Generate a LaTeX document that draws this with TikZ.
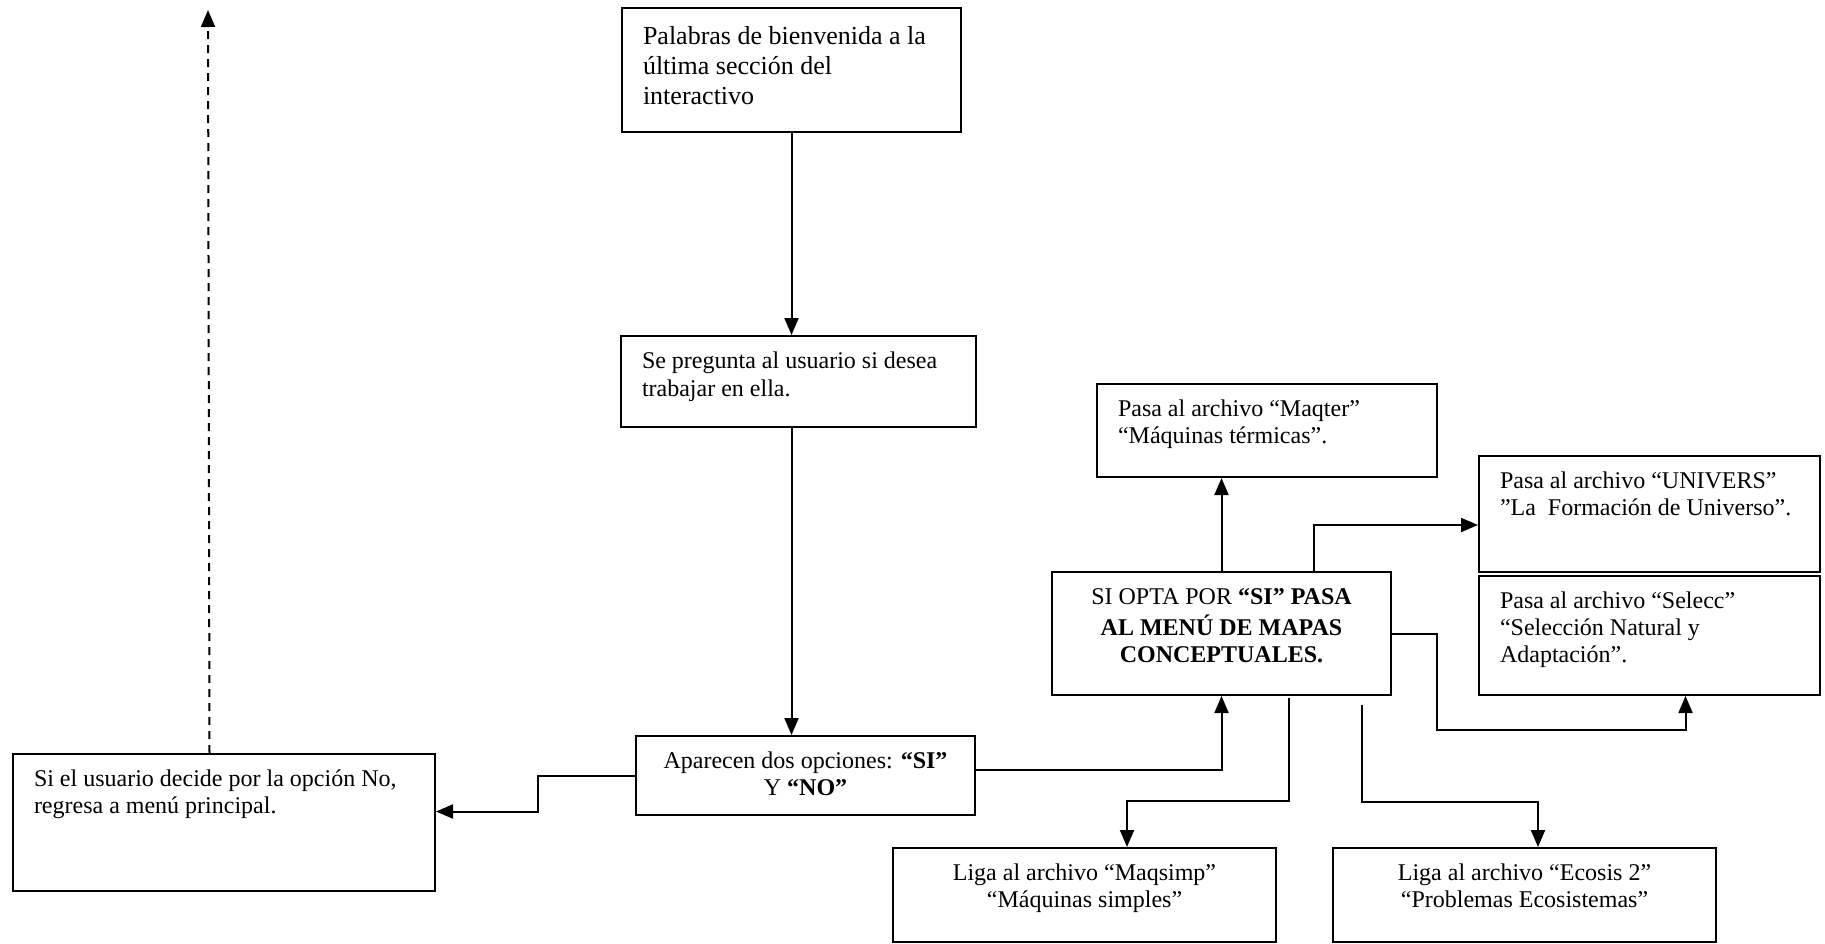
\documentclass[tikz,border=0pt]{standalone}
\usepackage{fontspec}
\setmainfont{Liberation Serif}
\usetikzlibrary{arrows.meta}
\newcommand{\cajatexto}[4][\raggedright\leftskip=10.5pt\relax]{\parbox[c][#3][t]{#2}{#1\strut #4}}

\begin{document}
\begin{tikzpicture}[x=0.5pt, y=-0.5pt, >={Triangle[length=8.5pt, width=7pt]}]
        \tikzset{
            caja/.style={draw, line width=1pt, anchor=north west, inner xsep=0pt, inner ysep=7pt, font=\fontsize{12}{13.5}\selectfont},
            flecha/.style={->, line width=1pt}
        }
        \useasboundingbox (0,0) rectangle (1825,943);

        \node[caja, inner ysep=7.5pt, font=\fontsize{13}{15}\selectfont] (bienvenida) at (621,7) {\cajatexto{169.5pt}{47pt}{Palabras de bienvenida a la\\ última sección del\\ interactivo}};
        \node[caja, inner ysep=6.2pt, font=\fontsize{12}{14}\selectfont] (pregunta) at (620,335) {\cajatexto{177.5pt}{33.1pt}{Se pregunta al usuario si desea\\ trabajar en ella.}};
        \node[caja] (opciones) at (635,735) {\cajatexto[\centering]{169.5pt}{25.5pt}{Aparecen dos opciones: \textbf{“SI”}\\ Y \textbf{“NO”}}};
        \node[caja] (regresa) at (12,753) {\cajatexto{211pt}{54.5pt}{Si el usuario decide por la opción No,\\ regresa a menú principal.}};

        \node[caja] (menu) at (1051,571) {\cajatexto[\centering]{169.5pt}{47.5pt}{SI OPTA POR \textbf{“SI” PASA}\\ \textbf{AL MENÚ DE MAPAS}\\ \textbf{CONCEPTUALES.}}};
        \node[caja] (maqter) at (1096,383) {\cajatexto{170pt}{32.5pt}{Pasa al archivo “Maqter”\\ “Máquinas térmicas”.}};
        \node[caja] (univers) at (1478,455) {\cajatexto{170.5pt}{44pt}{Pasa al archivo “UNIVERS”\\ ”La~ Formación de Universo”.}};
        \node[caja] (selecc) at (1478,575) {\cajatexto{170.5pt}{45.5pt}{Pasa al archivo “Selecc”\\ “Selección Natural y\\ Adaptación”.}};
        \node[caja] (maqsimp) at (892,847) {\cajatexto[\centering]{191.5pt}{33pt}{Liga al archivo “Maqsimp”\\ “Máquinas simples”}};
        \node[caja] (ecosis) at (1332,847) {\cajatexto[\centering]{191.5pt}{33pt}{Liga al archivo “Ecosis 2”\\ “Problemas Ecosistemas”}};

        \coordinate (inicio) at (208,10);

        % camino principal
        \draw[flecha] (bienvenida.south) -- (bienvenida.south |- pregunta.north);
        \draw[flecha] (bienvenida.south |- pregunta.south) -- (bienvenida.south |- opciones.north);
        \draw[flecha] (opciones.west) -- ++(-97,0) |- ([yshift=5.5pt]regresa.east);
        \draw[flecha, dash pattern=on 4pt off 3pt] ([xshift=-7.25pt]regresa.north) -- (inicio);
        \draw[flecha] ([yshift=3pt]opciones.east) -| (menu.south);

        % menu de mapas
        \draw[flecha] (menu.north) -- (menu.north |- maqter.south);
        \draw[flecha] ([xshift=46.25pt]menu.north) |- ([yshift=-5.5pt]univers.west);
        \draw[flecha] (menu.east) -| ++(45,96) -| ([xshift=18pt]selecc.south);
        \draw[flecha] ([xshift=33.5pt,yshift=-1.2pt]menu.south) -- ++(0,103) -| ([xshift=21.25pt]maqsimp.north);
        \draw[flecha] ([xshift=70.25pt,yshift=-4.35pt]menu.south) -- ++(0,97) -| ([xshift=6.75pt]ecosis.north);
    \end{tikzpicture}
\end{document}
